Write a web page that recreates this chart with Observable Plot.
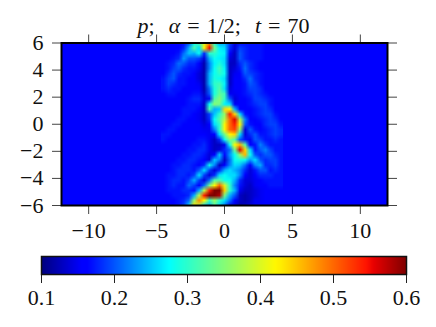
<!DOCTYPE html>
<html><head><meta charset="utf-8">
<script src="https://cdn.jsdelivr.net/npm/d3@7"></script>
<script src="https://cdn.jsdelivr.net/npm/@observablehq/plot@0.6"></script>
<style>
html,body{margin:0;padding:0;background:#fff;width:436px;height:327px;overflow:hidden}
#wrap{position:relative;width:436px;height:327px}
#wrap svg{display:block;position:absolute;left:0;background:transparent}
#title{position:absolute;left:0;width:447px;top:14px;text-align:center;font:22px/24px "Liberation Serif",serif;color:#111;white-space:pre;word-spacing:1.5px}
</style></head><body><div id="wrap"><div id="title"><i>p</i>;  <i>α</i> = 1/2;  <i>t</i> = 70</div></div>
<script>
const background = 0.16;
const colStart = -4.5, colStep = 0.375;
const rowStart = 6, rowStep = 0.375;
const field = [
[16,16,16,16,17,20,28,32,40,48,30,24,24,19,14,17,17,17,17,17,16,16,16,16],
[16,16,16,16,18,24,32,26,42,55,34,27,26,18,14,19,18,17,17,17,16,16,16,16],
[16,16,16,17,21,25,24,28,18,30,30,28,27,16,13,20,18,17,17,17,16,16,16,16],
[16,16,17,18,23,20,20,19,14,24,28,27,26,14,13,20,18,17,17,17,16,16,16,16],
[16,17,18,21,20,18,18,16,12,22,27,29,26,13,13,18,20,18,17,16,16,16,16,16],
[16,17,19,20,18,17,17,15,12,22,28,31,27,13,14,17,21,18,17,16,16,16,16,16],
[16,18,20,18,17,17,16,14,12,24,28,30,28,13,15,16,20,19,18,17,16,16,16,16],
[17,19,20,17,17,16,16,14,12,24,29,28,26,13,16,16,18,21,18,17,16,16,16,16],
[17,19,18,17,17,16,16,15,12,24,30,31,27,13,16,16,17,20,19,17,16,16,16,16],
[17,18,17,17,16,16,16,16,12,21,29,32,26,14,16,16,17,19,19,18,16,16,16,16],
[16,17,17,16,16,16,17,17,13,20,29,33,31,15,15,16,17,18,19,18,17,16,16,16],
[16,16,16,16,16,17,18,18,14,15,32,35,30,20,14,16,16,17,19,19,18,17,16,16],
[16,16,16,16,16,17,17,17,13,28,35,34,27,26,15,16,16,17,18,19,19,17,16,16],
[16,16,16,16,17,17,17,16,13,32,24,25,44,42,24,16,16,16,17,18,19,18,16,16],
[16,16,16,16,17,17,16,15,13,19,25,30,36,54,44,26,17,16,17,18,19,19,17,16],
[16,16,16,17,17,16,16,15,13,18,28,32,38,50,56,38,22,16,16,17,18,19,18,16],
[16,16,17,17,16,16,16,16,14,16,26,30,42,50,54,42,20,17,16,16,18,19,19,17],
[16,17,17,16,16,16,16,16,15,15,22,30,42,50,52,36,14,20,17,16,17,18,19,18],
[17,17,16,16,16,16,16,16,16,15,16,26,34,42,44,26,14,18,20,17,17,18,19,18],
[17,16,16,16,16,16,16,17,17,15,13,18,28,35,32,20,17,15,20,19,17,17,18,17],
[16,16,16,16,16,16,17,17,18,15,13,13,15,28,42,46,32,16,17,22,19,17,17,17],
[16,16,16,16,16,17,17,18,18,15,13,14,18,21,34,56,44,26,17,20,22,19,17,17],
[16,16,16,16,17,17,18,18,17,14,16,25,16,23,28,36,46,28,20,18,20,20,18,17],
[16,16,16,17,17,18,18,17,16,14,25,22,13,21,28,29,28,23,26,20,18,19,19,17],
[16,16,17,17,18,18,17,16,18,28,22,13,16,22,26,25,21,16,22,24,18,18,19,17],
[16,16,17,18,18,18,17,20,26,19,14,18,24,26,24,22,18,14,17,20,20,17,18,17],
[16,17,17,18,18,17,19,26,19,14,18,26,28,26,26,22,16,14,16,18,18,18,17,17],
[16,17,18,18,17,19,24,19,14,21,32,32,28,28,24,18,14,14,15,16,17,17,17,17],
[16,17,18,17,17,21,19,16,21,34,42,50,40,30,22,17,14,13,15,16,16,17,17,17],
[16,17,17,17,18,18,17,24,38,54,60,60,44,30,24,15,13,13,14,15,16,16,16,16],
[16,16,17,17,17,18,24,38,54,60,60,58,34,24,20,13,12,13,14,15,16,16,16,16],
[16,16,16,17,18,21,36,48,42,30,36,30,26,21,16,13,12,13,15,15,16,16,16,16],
[16,16,16,17,19,26,44,38,26,24,32,26,21,15,14,12,13,14,15,16,16,16,16,16]
];
const xTicks = [-10,-5,0,5,10];
const yTicks = [-6,-4,-2,0,2,4,6];
const barTicks = [0.1,0.2,0.3,0.4,0.5,0.6];
const jetStops = [0,0.11,0.125,0.35,0.375,0.64,0.66,0.89,0.91,1];
const jetColors = ["#00007f","#0000ff","#0000ff","#00ffff","#16ffe1","#fff800","#ffea00","#ff1300","#e80000","#7f0000"];

const font = '"Liberation Serif",serif';
const colorScale = {type:"linear", domain: jetStops.map(s => 0.1 + s*0.5), range: jetColors, clamp:true, interpolate:"rgb"};
const minus = () => d => String(d).replace("-", "\u2212");
const nRows = field.length, nCols = field[0].length;
const flat = field.flat().map(v => v/100);

const main = Plot.plot({
  width:436, height:250, marginLeft:61, marginRight:49, marginTop:42.5, marginBottom:45,
  style:{fontFamily:font, fontSize:"22px", color:"#111", background:"transparent"},
  x:{domain:[-12,12], label:null},
  y:{domain:[-6,6], label:null},
  color:colorScale,
  marks:[
    Plot.rect([background],{x1:-12,x2:12,y1:-6,y2:6,fill:d=>d}),
    Plot.raster(flat,{width:nCols,height:nRows,
      x1:colStart-colStep/2, x2:colStart+colStep*(nCols-0.5),
      y1:rowStart+rowStep/2, y2:rowStart-rowStep*(nRows-0.5),
      clip:true, imageRendering:"auto"}),
    Plot.axisX(xTicks,{anchor:"bottom",tickSize:9,tickPadding:8,tickFormat:minus(),stroke:"#444",fontSize:22}),
    Plot.axisX(xTicks,{anchor:"top",tickSize:9,tickFormat:null,text:null,stroke:"#444"}),
    Plot.axisY(yTicks,{anchor:"left",tickSize:9,tickPadding:9,tickFormat:minus(),stroke:"#444",fontSize:22}),
    Plot.axisY(yTicks,{anchor:"right",tickSize:9,tickFormat:null,text:null,stroke:"#444"}),
    Plot.frame({stroke:"#000",strokeWidth:2})
  ]
});
main.style.top = "0px";

const bar = Plot.plot({
  width:436, height:87, marginLeft:41, marginRight:30, marginTop:16, marginBottom:53,
  style:{fontFamily:font, fontSize:"22px", color:"#111", background:"transparent"},
  x:{domain:[0.1,0.6], label:null},
  y:{domain:[0,1], axis:null},
  color:colorScale,
  marks:[
    Plot.raster({x1:0.1,x2:0.6,y1:0,y2:1,width:365,height:1,fill:(x,y)=>x}),
    Plot.axisX(barTicks,{anchor:"bottom",tickSize:9,tickPadding:6,tickFormat:d=>d.toFixed(1),stroke:"#222",fontSize:22}),
    Plot.frame({stroke:"#111",strokeWidth:1.5})
  ]
});
bar.style.top = "240px";
const wrap = document.getElementById("wrap");
wrap.insertBefore(bar, wrap.firstChild);
wrap.insertBefore(main, wrap.firstChild);
</script></body></html>
